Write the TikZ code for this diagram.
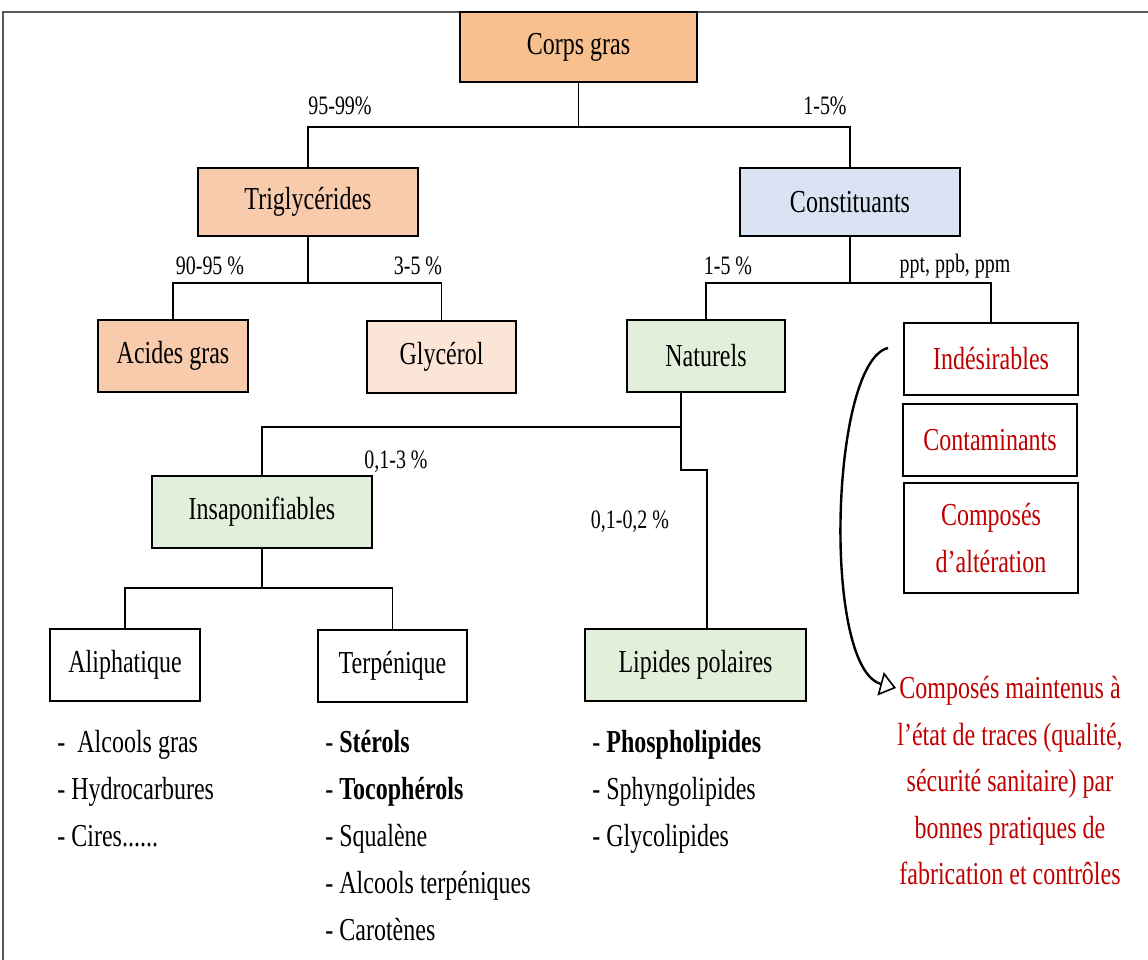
\documentclass[tikz,border=0pt]{standalone}
\usepackage{fontspec}
\setmainfont{Liberation Serif}[FakeStretch=0.75]
\usepackage{tikz}
\usetikzlibrary{arrows.meta}
\definecolor{orange1}{HTML}{F8BF8F}
\definecolor{orange2}{HTML}{F8CBAD}
\definecolor{orange3}{HTML}{FBE5D6}
\definecolor{bleu1}{HTML}{DAE3F3}
\definecolor{vert1}{HTML}{E2EFDA}
\definecolor{rouge1}{HTML}{C00000}
\newcommand{\pointsuite}{......}
\tikzset{
  boite/.style={draw, line width=1pt, align=center, inner sep=2pt, font=\fontsize{16}{23.5}\selectfont},
  lien/.style={line width=0.8pt},
  pct/.style={inner sep=0pt, font=\fontsize{13.3}{14}\selectfont},
  liste/.style={anchor=base west, inner sep=0pt, font=\fontsize{16}{18}\selectfont},
}

\begin{document}
\begin{tikzpicture}[x=0.5pt,y=-0.5pt]
\useasboundingbox (0,0) rectangle (1148,960);
\draw[gray!70!black, line width=0.6pt] (3,960) -- (3,12) -- (1148,12);

% boites
\node[boite, fill=orange1, minimum width=118.5pt, minimum height=35pt] (corps) at (578.5,47) {Corps gras};
\node[boite, fill=orange2, minimum width=110pt, minimum height=34pt] (trig) at (308,202) {Triglycérides};
\node[boite, fill=bleu1, minimum width=110pt, minimum height=34pt] (const) at (850,202) {Constituants};
\node[boite, fill=orange2, minimum width=75pt, minimum height=36pt] (acides) at (173,356) {Acides gras};
\node[boite, fill=orange3, minimum width=74.5pt, minimum height=36pt] (glyc) at (441.5,357) {Glycérol};
\node[boite, fill=vert1, minimum width=79pt, minimum height=36pt] (natur) at (706,356) {Naturels};
\node[boite, text=rouge1, minimum width=87pt, minimum height=36pt] (indes) at (991,359) {Indésirables};
\node[boite, text=rouge1, minimum width=87pt, minimum height=36pt] (contam) at (990,440) {Contaminants};
\node[boite, text=rouge1, minimum width=87pt, minimum height=55pt] (alter) at (991,538) {Composés\\d’altération};
\node[boite, fill=vert1, minimum width=110pt, minimum height=36pt] (insap) at (262,512) {Insaponifiables};
\node[boite, minimum width=75pt, minimum height=36pt] (aliph) at (125,665) {Aliphatique};
\node[boite, minimum width=74.5pt, minimum height=36pt] (terp) at (392.5,666) {Terpénique};
\node[boite, fill=vert1, minimum width=110.5pt, minimum height=36pt] (lipid) at (695.5,665) {Lipides polaires};

% liens
\draw[lien] (corps.south) -- ++(0,44) coordinate (b1);
\draw[lien] (trig.north) |- (b1) -| (const.north);
\draw[lien] (trig.south) -- ++(0,46) coordinate (b2);
\draw[lien] (acides.north) |- (b2) -| (glyc.north);
\draw[lien] (const.south) -- ++(0,46) coordinate (b3);
\draw[lien] (natur.north) |- (b3) -| (indes.north);
\coordinate (b4) at (681,427);
\coordinate (b5) at (707,470);
\draw[lien] (natur.south -| b4) -- (b4);
\draw[lien] (insap.north) |- (b4) |- (b5) -- (lipid.north -| b5);
\draw[lien] (insap.south) -- ++(0,39) coordinate (b6);
\draw[lien] (aliph.north) |- (b6) -| (terp.north);

% pourcentages
\node[pct] (p1) at (340,106) {95-99\%};
\node[pct] (p2) at (825,106) {1-5\%};
\node[pct] (p3) at (210,266) {90-95 \%};
\node[pct] (p4) at (418,266) {3-5 \%};
\node[pct] (p5) at (728,266) {1-5 \%};
\node[pct] (p6) at (955,266) {ppt, ppb, ppm};
\node[pct] (p7) at (396,462) {0,1-3 \%};
\node[pct] (p8) at (630,522) {0,1-0,2 \%};

% listes
\foreach \t [count=\i] in {{\ Alcools gras}, {Hydrocarbures}, {Cires\pointsuite}}
  \node[liste] (ali\i) at (57,752+47*\i-47) {- \t};
\foreach \t [count=\i] in {{\textbf{Stérols}}, {\textbf{Tocophérols}}, {Squalène}, {Alcools terpéniques}, {Carotènes}}
  \node[liste] (ter\i) at (325,752+47*\i-47) {- \t};
\foreach \t [count=\i] in {{\textbf{Phospholipides}}, {Sphyngolipides}, {Glycolipides}}
  \node[liste] (lip\i) at (592,752+47*\i-47) {- \t};

% composes maintenus
\node[text=rouge1, align=center, inner sep=0pt, font=\fontsize{16}{23.25}\selectfont] (maint) at (1010,781)
  {Composés maintenus à\\l’état de traces (qualité,\\sécurité sanitaire) par\\bonnes pratiques de\\fabrication et contrôles};
\coordinate (c1) at (888,348);
\coordinate (c2) at (896,688);
\draw[line width=1.2pt, -{Triangle[length=8pt,width=12pt,fill=white,line width=0.8pt]}]
  (c1) .. controls (830,362) and (822,668) .. (c2);
\end{tikzpicture}
\end{document}
